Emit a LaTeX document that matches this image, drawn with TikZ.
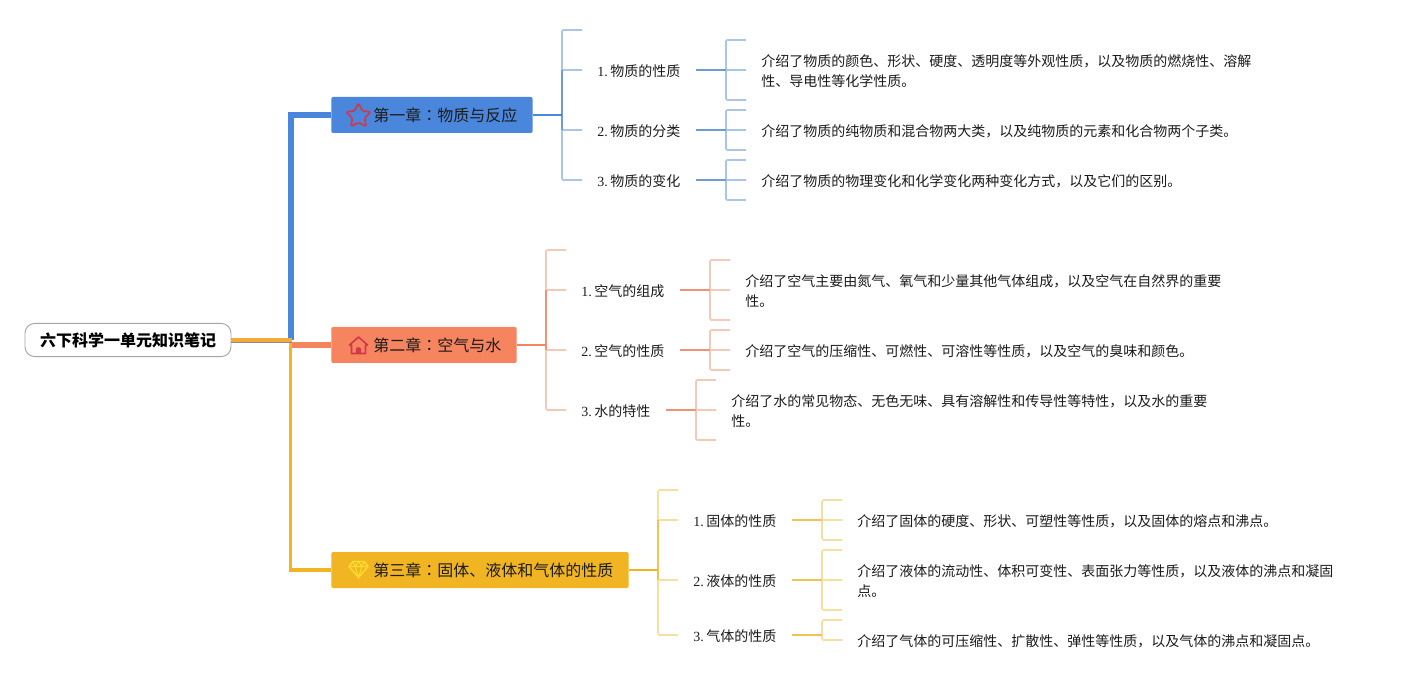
\documentclass[tikz,border=0pt]{standalone}
\usepackage{fontspec}
\setmainfont{Liberation Serif}
\newfontfamily\cjk{Noto Sans CJK SC}
\newfontfamily\cjktc{Noto Sans CJK TC}
\definecolor{blueM}{HTML}{4A86DC}
\definecolor{blueD}{HTML}{6F9BD5}
\definecolor{blueL}{HTML}{ABC5E9}
\definecolor{salM}{HTML}{F5845F}
\definecolor{salD}{HTML}{EC9478}
\definecolor{salL}{HTML}{F3C9BA}
\definecolor{yelM}{HTML}{F1B524}
\definecolor{yelD}{HTML}{EFC455}
\definecolor{yelL}{HTML}{F6DFA2}
\definecolor{rootL}{HTML}{F5A93A}
\definecolor{ink}{HTML}{1C1C1C}
\definecolor{iconred}{HTML}{D2384A}
\definecolor{iconyel}{HTML}{FBDD2E}
\tikzset{
  rootbox/.style={draw=black!35,line width=0.7pt,fill=white,rounded corners=7.5pt,minimum width=154.5pt,minimum height=25pt,inner sep=0pt,font=\cjk\fontsize{12}{15}\selectfont\bfseries,text=black},
  chapbox/.style={rounded corners=1.5pt,minimum height=27pt,inner sep=0pt,anchor=west},
  chaptext/.style={anchor=west,inner sep=0pt,font=\cjk\fontsize{12}{15}\selectfont,text=ink},
  lab/.style={anchor=west,inner sep=0pt,font=\fontsize{10.5}{15}\selectfont,text=ink},
  txt/.style={anchor=west,inner sep=0pt,align=left,font=\cjk\fontsize{10.5}{15}\selectfont,text=ink},
  thin/.style={line width=1.2pt,rounded corners=1pt},
  stub/.style={line width=1.5pt},
  iconpt/.style={inner sep=0pt,minimum size=1pt},
}
\newcommand\zh[1]{\kern1.9pt{\cjk #1}}
\newcommand\cl{{\cjktc ：}}
% #1 name, #2 colour, #3 hub x, #4 hub y, #5 tick end x, #6 tick ys
\newcommand\fanout[6]{%
  \coordinate (#1) at (#3,#4);
  \foreach \yy in {#6}{
    \coordinate (#1-\yy) at (#5,\yy);
    \draw[thin,#2] (#1) |- (#1-\yy);
  }}
\begin{document}
\begin{tikzpicture}[x=0.75pt,y=-0.75pt]
\useasboundingbox (0,0) rectangle (1417,680);
\fill[white] (0,0) rectangle (1417,680);

% trunk
\coordinate (tj) at (291,340);
\coordinate (tk) at (290.5,340);
\coordinate (ts) at (291,345);
\node[chapbox,fill=blueM,minimum width=151pt] (c1) at (331,115) {};
\node[chapbox,fill=salM,minimum width=139pt] (c2) at (331,345) {};
\node[chapbox,fill=yelM,minimum width=223pt] (c3) at (331,570) {};
\draw[blueM,line width=4.1pt] (tj) |- (c1.west);
\draw[salM,line width=4pt] (ts) -- (c2.west);
\draw[yelM,line width=2.7pt] (tk) |- (c3.west);

% root and chapter texts
\node[rootbox] (root) at (128,340) {六下科学一单元知识笔记};
\draw[black!45,line width=3.8pt] ([yshift=-0.4pt]root.east) -- ([xshift=1pt,yshift=-0.4pt]tk);
\draw[rootL,line width=3.1pt] ([yshift=0.3pt]root.east) -- ([xshift=1pt,yshift=0.3pt]tk);
\node[chaptext] (c1t) at (373,115) {第一章\cl 物质与反应};
\node[chaptext] (c2t) at (373,345) {第二章\cl 空气与水};
\node[chaptext] (c3t) at (373,570) {第三章\cl 固体、液体和气体的性质};

% icons
\node[iconpt] (i1) at (358.5,116) {};
\begin{scope}[shift={(i1)}]
  \draw[iconred,line width=1.3pt,rounded corners=1.2pt]
    (-90:13) -- (-54:6.4) -- (-18:13) -- (18:6.4) -- (54:13) -- (90:6.4) -- (126:13) -- (162:6.4) -- (198:13) -- (234:6.4) -- cycle;
\end{scope}
\node[iconpt] (i2) at (358.5,345.5) {};
\begin{scope}[shift={(i2)}]
  \draw[iconred,line width=1.2pt,line join=round] (-9,-0.5) -- (0,-8.5) -- (9,-0.5) -- (7,-0.5) -- (7,8) -- (-7,8) -- (-7,-0.5) -- cycle;
  \fill[iconred] (-2.6,8) -- (-2.6,3.8) arc[start angle=180,end angle=360,x radius=2.6,y radius=2.2] -- (2.6,8) -- cycle;
\end{scope}
\node[iconpt] (i3) at (358.5,569) {};
\begin{scope}[shift={(i3)}]
  \draw[iconyel,line width=1.1pt,line join=round] (-5.5,-7.5) -- (5.5,-7.5) -- (9.5,-2.5) -- (0,8.5) -- (-9.5,-2.5) -- cycle;
  \draw[iconyel,line width=0.8pt] (-9.5,-2.5) -- (9.5,-2.5) (-3.5,-2.5) -- (0,8.5) -- (3.5,-2.5) (-5.5,-7.5) -- (-3.5,-2.5) -- (0,-7.5) -- (3.5,-2.5) -- (5.5,-7.5);
\end{scope}

% chapter 1
\fanout{h1}{blueL}{562}{115}{582}{30,70,130,180}
\draw[blueD,stub] (h1-70 -| h1) -- (h1-130 -| h1);
\draw[blueM,stub] (c1.east) -- (h1);
\node[lab] (a1) at (597,71) {1.\zh{物质的性质}};
\node[lab] (a2) at (597,131) {2.\zh{物质的分类}};
\node[lab] (a3) at (597,181) {3.\zh{物质的变化}};
\node[txt] (a1t) at (761,71) {介绍了物质的颜色、形状、硬度、透明度等外观性质，以及物质的燃烧性、溶解\\性、导电性等化学性质。};
\node[txt] (a2t) at (761,131) {介绍了物质的纯物质和混合物两大类，以及纯物质的元素和化合物两个子类。};
\node[txt] (a3t) at (761,181) {介绍了物质的物理变化和化学变化两种变化方式，以及它们的区别。};
\fanout{ha1}{blueL}{726}{70}{746}{40,70,100}
\fanout{ha2}{blueL}{726}{130}{746}{110,130,150}
\fanout{ha3}{blueL}{726}{180}{746}{160,180,200}
\coordinate (sa1) at (696,70); \coordinate (sa2) at (696,130); \coordinate (sa3) at (696,180);
\draw[blueD,stub] (sa1) -- (ha1);
\draw[blueD,stub] (sa2) -- (ha2);
\draw[blueD,stub] (sa3) -- (ha3);

% chapter 2
\fanout{h2}{salL}{546}{345}{566}{250,290,350,410}
\draw[salD,stub] (h2-290 -| h2) -- (h2-350 -| h2);
\draw[salM,stub] (c2.east) -- (h2);
\node[lab] (b1) at (581,291) {1.\zh{空气的组成}};
\node[lab] (b2) at (581,351) {2.\zh{空气的性质}};
\node[lab] (b3) at (581,411) {3.\zh{水的特性}};
\node[txt] (b1t) at (745,291) {介绍了空气主要由氮气、氧气和少量其他气体组成，以及空气在自然界的重要\\性。};
\node[txt] (b2t) at (745,351) {介绍了空气的压缩性、可燃性、可溶性等性质，以及空气的臭味和颜色。};
\node[txt] (b3t) at (731,411) {介绍了水的常见物态、无色无味、具有溶解性和传导性等特性，以及水的重要\\性。};
\fanout{hb1}{salL}{710}{290}{730}{260,290,320}
\fanout{hb2}{salL}{710}{350}{730}{330,350,370}
\fanout{hb3}{salL}{696}{410}{716}{380,410,440}
\coordinate (sb1) at (680,290); \coordinate (sb2) at (680,350); \coordinate (sb3) at (666,410);
\draw[salD,stub] (sb1) -- (hb1);
\draw[salD,stub] (sb2) -- (hb2);
\draw[salD,stub] (sb3) -- (hb3);

% chapter 3
\fanout{h3}{yelL}{658}{570}{678}{490,520,580,635}
\draw[yelD,stub] (h3-520 -| h3) -- (h3-580 -| h3);
\draw[yelM,stub] (c3.east) -- (h3);
\node[lab] (d1) at (693,521) {1.\zh{固体的性质}};
\node[lab] (d2) at (693,581) {2.\zh{液体的性质}};
\node[lab] (d3) at (693,636) {3.\zh{气体的性质}};
\node[txt] (d1t) at (857,521) {介绍了固体的硬度、形状、可塑性等性质，以及固体的熔点和沸点。};
\node[txt] (d2t) at (857,581) {介绍了液体的流动性、体积可变性、表面张力等性质，以及液体的沸点和凝固\\点。};
\node[txt] (d3t) at (857,641) {介绍了气体的可压缩性、扩散性、弹性等性质，以及气体的沸点和凝固点。};
\fanout{hd1}{yelL}{822}{520}{842}{500,520,540}
\fanout{hd2}{yelL}{822}{580}{842}{550,580,610}
\fanout{hd3}{yelL}{822}{635}{842}{620,640}
\coordinate (sd1) at (792,520); \coordinate (sd2) at (792,580); \coordinate (sd3) at (792,635);
\draw[yelD,stub] (sd1) -- (hd1);
\draw[yelD,stub] (sd2) -- (hd2);
\draw[yelD,stub] (sd3) -- (hd3);
\end{tikzpicture}
\end{document}
